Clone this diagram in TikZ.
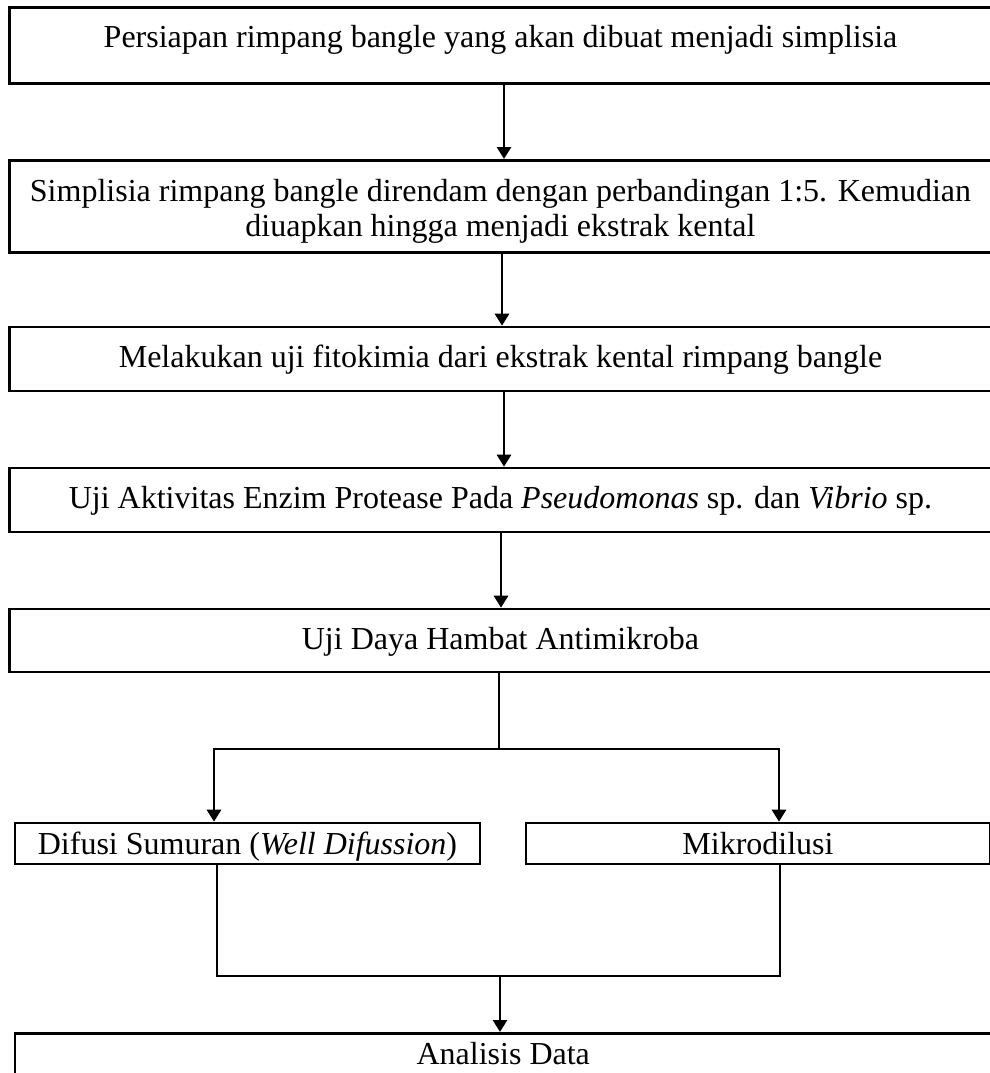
\documentclass[tikz,border=0pt]{standalone}
\usepackage{fontspec}
\setmainfont{Liberation Serif}
\usetikzlibrary{arrows.meta}
\tikzset{
  box/.style={draw, line width=2.6pt, rectangle, inner sep=0pt, align=center,
    font=\fontsize{32}{35}\selectfont},
  oneline/.style={text height=22pt, text depth=5pt},
  link/.style={line width=2.8pt, line join=miter},
  arr/.style={link, -{Triangle[length=12pt,width=14pt]}}
}
\begin{document}
\begin{tikzpicture}[x=1pt,y=-1pt]
\useasboundingbox (0,0) rectangle (990,1073);
\clip (0,0) rectangle (990,1073);
\fill[white] (0,0) rectangle (990,1073);

\node[box, anchor=north, minimum width=982pt, text height=40.7pt, text depth=35.3pt] (b1) at (500.5,6)
  {Persiapan rimpang bangle yang akan dibuat menjadi simplisia};
\node[box, anchor=north, minimum width=982pt, text height=41pt, text depth=51pt] (b2) at (500.5,159)
  {\begin{tabular}[t]{@{}c@{}}Simplisia rimpang bangle direndam dengan perbandingan 1:5. Kemudian\\diuapkan hingga menjadi ekstrak kental\end{tabular}};
\node[box, oneline, minimum width=982pt, minimum height=64pt] (b3) at (500.5,359)
  {Melakukan uji fitokimia dari ekstrak kental rimpang bangle};
\node[box, oneline, minimum width=982pt, minimum height=64pt] (b4) at (500.5,500)
  {Uji Aktivitas Enzim Protease Pada \textit{Pseudomonas} sp. dan \textit{Vibrio} sp.};
\node[box, oneline, minimum width=982pt, minimum height=63pt] (b5) at (500.5,640.5)
  {Uji Daya Hambat Antimikroba};
\node[box, text height=22pt, text depth=0pt, minimum width=465pt, minimum height=41pt] (b6) at (247.5,843.5)
  {Difusi Sumuran (\textit{Well Difussion})};
\node[box, text height=22pt, text depth=0pt, minimum width=464pt, minimum height=41pt] (b7) at (758,843.5)
  {Mikrodilusi};
\node[box, anchor=north, minimum width=976.5pt, text height=22pt, text depth=50pt, inner ysep=9pt] (b8) at (503.25,1032)
  {Analisis Data};

\coordinate (xa) at (504,0);
\coordinate (xb) at (502,0);
\coordinate (xc) at (504,0);
\coordinate (xd) at (501,0);
\draw[arr] (b1.south -| xa) -- (b2.north -| xa);
\draw[arr] (b2.south -| xb) -- (b3.north -| xb);
\draw[arr] (b3.south -| xc) -- (b4.north -| xc);
\draw[arr] (b4.south -| xd) -- (b5.north -| xd);

\coordinate (sp) at (499,749);
\coordinate (spl) at (214,749);
\coordinate (spr) at (779,749);
\draw[link] (b5.south -| sp) -- (sp);
\draw[arr] (sp) -- (spl) -- (b6.north -| spl);
\draw[arr] (sp) -- (spr) -- (b7.north -| spr);

\coordinate (mg) at (500,976);
\coordinate (ml) at (217,976);
\coordinate (mr) at (780,976);
\draw[link] (b6.south -| ml) -- (ml) -- (mr) -- (b7.south -| mr);
\draw[arr] (mg) -- (b8.north -| mg);
\end{tikzpicture}
\end{document}
